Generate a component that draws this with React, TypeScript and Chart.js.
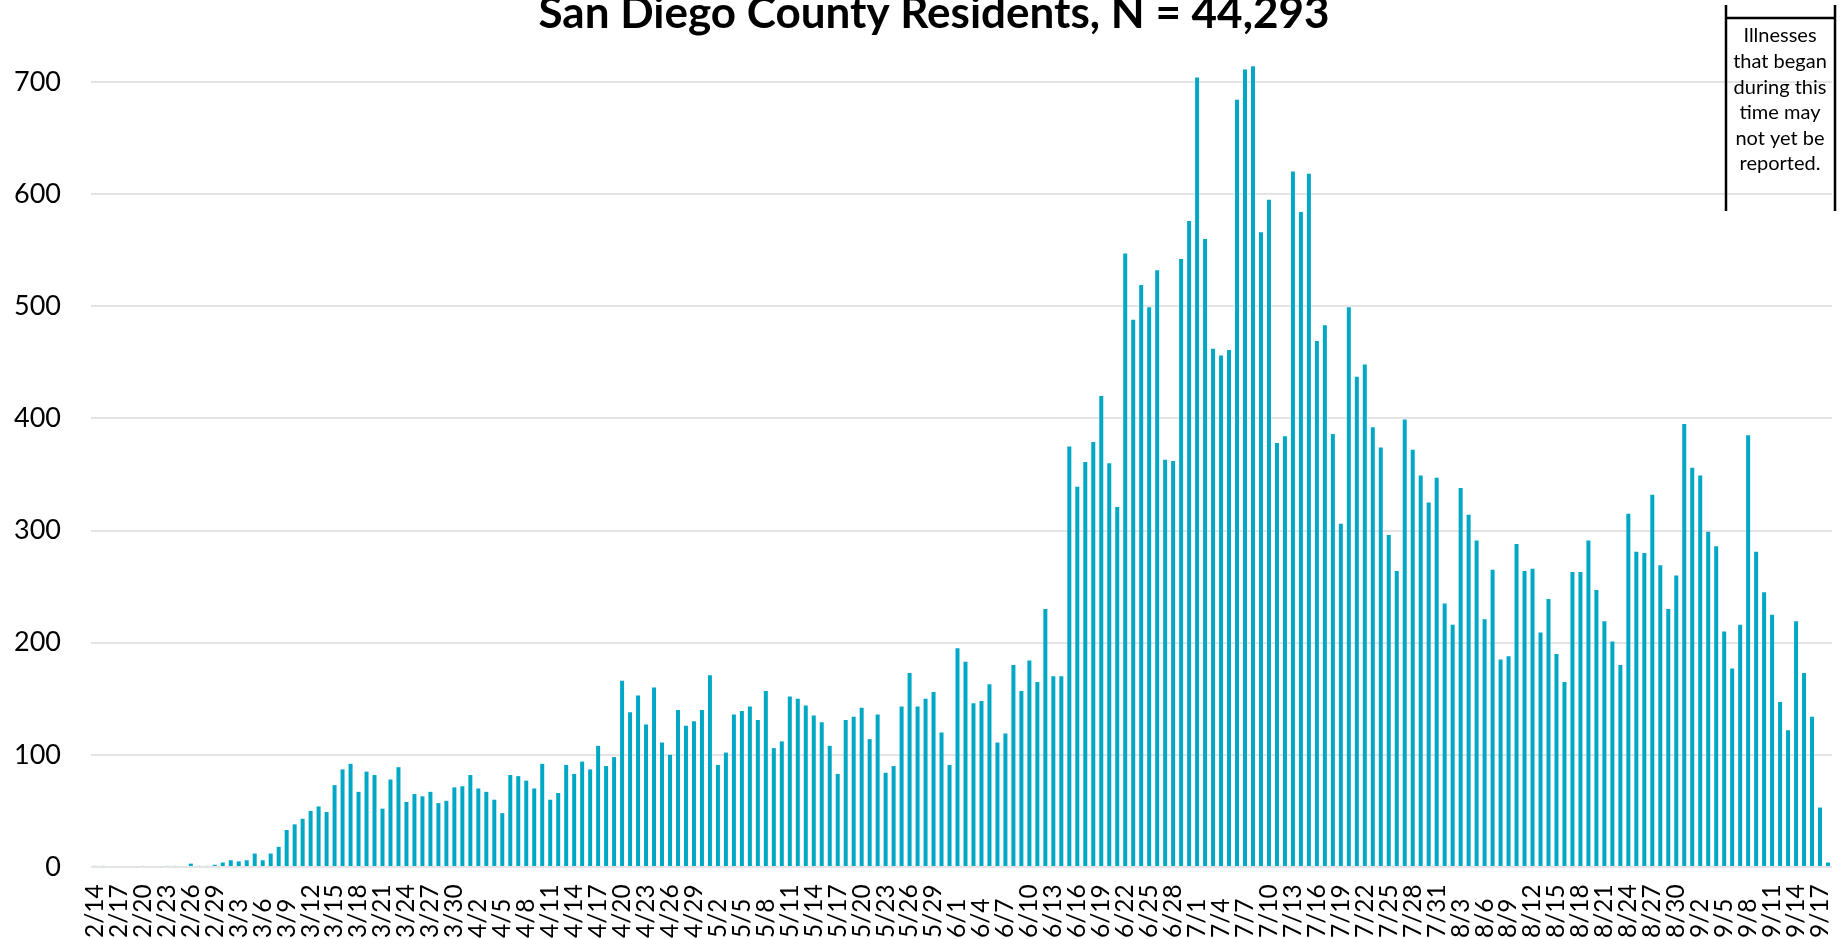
import { useEffect, useRef } from "react";
import { Chart, registerables } from "chart.js";

Chart.register(...registerables);

// Daily counts by illness onset date (2020)
const febValues = [1, 1, 0, 0, 0, 0, 1, 0, 0, 1, 1, 0, 3, 1, 1, 2];
const marValues = [4, 6, 5, 6, 12, 6, 12, 18, 33, 38, 43, 50, 54, 49, 73, 87, 92, 67, 85, 82, 52, 78, 89, 58, 65, 63, 67, 57, 59, 71, 72];
const aprValues = [82, 70, 67, 60, 48, 82, 81, 77, 70, 92, 60, 66, 91, 83, 94, 87, 108, 90, 98, 166, 138, 153, 127, 160, 111, 100, 140, 126, 130, 140];
const mayValues = [171, 91, 102, 136, 139, 143, 131, 157, 106, 112, 152, 150, 144, 135, 129, 108, 83, 131, 134, 142, 114, 136, 84, 90, 143, 173, 143, 150, 156, 120, 91];
const junValues = [195, 183, 146, 148, 163, 111, 119, 180, 157, 184, 165, 230, 170, 170, 375, 339, 361, 379, 420, 360, 321, 547, 488, 519, 499, 532, 363, 362, 542, 576];
const julValues = [704, 560, 462, 456, 461, 684, 711, 714, 566, 595, 378, 384, 620, 584, 618, 469, 483, 386, 306, 499, 437, 448, 392, 374, 296, 264, 399, 372, 349, 325, 347];
const augValues = [235, 216, 338, 314, 291, 221, 265, 185, 188, 288, 264, 266, 209, 239, 190, 165, 263, 263, 291, 247, 219, 201, 180, 315, 281, 280, 332, 269, 230, 260, 395];
const sepValues = [356, 349, 299, 286, 210, 177, 216, 385, 281, 245, 225, 147, 122, 219, 173, 134, 53, 4];

const monthNumbers = [2, 3, 4, 5, 6, 7, 8, 9];
const monthFirstDays = [14, 1, 1, 1, 1, 1, 1, 1];
const monthSeries = [febValues, marValues, aprValues, mayValues, junValues, julValues, augValues, sepValues];

const yTickValues = [0, 100, 200, 300, 400, 500, 600, 700];
const labelEvery = 3;
const titleText = "San Diego County Residents, N = 44,293";
const noteLines = ["Illnesses", "that began", "during this", "time may", "not yet be", "reported."];

const categories: string[] = [];
monthSeries.forEach((arr, m) =>
  arr.forEach((_, k) => categories.push(`${monthNumbers[m]}/${monthFirstDays[m] + k}`))
);
const values: number[] = monthSeries.flat();

const BAR_COLOR = "#00A8C6";
const FONT = "Lato, 'Open Sans', sans-serif";

const overlayPlugin = {
  id: "overlay",
  afterDraw(chart: any) {
    const ctx = chart.ctx as CanvasRenderingContext2D;
    const xs = chart.scales.x;
    // x tick labels (rotated, start-anchored at bottom)
    ctx.save();
    ctx.font = `24.5px ${FONT}`;
    ctx.fillStyle = "#000";
    ctx.textAlign = "left";
    ctx.textBaseline = "middle";
    categories.forEach((c, i) => {
      if (i % labelEvery !== 0) return;
      const x = xs.getPixelForValue(i);
      ctx.save();
      ctx.translate(x, 938);
      ctx.rotate(-Math.PI / 2);
      ctx.fillText(c, 0, 0);
      ctx.restore();
    });
    ctx.restore();

    // Title (partly cut at top)
    ctx.save();
    ctx.font = `bold 44px ${FONT}`;
    ctx.fillStyle = "#000";
    ctx.textAlign = "center";
    ctx.textBaseline = "alphabetic";
    ctx.fillText(titleText, 934, 28);
    ctx.restore();

    // Note bracket
    ctx.save();
    ctx.strokeStyle = "#000";
    ctx.lineWidth = 2.5;
    ctx.beginPath();
    ctx.moveTo(1726, 5);
    ctx.lineTo(1726, 211);
    ctx.moveTo(1835, 5);
    ctx.lineTo(1835, 211);
    ctx.moveTo(1726, 18);
    ctx.lineTo(1835, 18);
    ctx.stroke();
    ctx.font = `20px ${FONT}`;
    ctx.fillStyle = "#000";
    ctx.textAlign = "center";
    ctx.textBaseline = "middle";
    noteLines.forEach((t, i) => ctx.fillText(t, 1780, 36 + i * 25.6));
    ctx.restore();
  },
};

export default function App() {
  const ref = useRef<HTMLCanvasElement | null>(null);
  useEffect(() => {
    document.body.style.margin = "0";
    const canvas = ref.current;
    if (!canvas) return;
    const chart = new Chart(canvas, {
      type: "bar",
      data: {
        labels: categories,
        datasets: [
          {
            data: values,
            backgroundColor: BAR_COLOR,
            barPercentage: 0.5,
            categoryPercentage: 1.0,
          },
        ],
      },
      options: {
        responsive: false,
        animation: false,
        devicePixelRatio: 1,
        layout: { padding: { left: 0, right: 12, top: 0, bottom: 0 } },
        plugins: {
          legend: { display: false },
          tooltip: { enabled: false },
          title: { display: false },
        },
        scales: {
          x: {
            grid: { display: false },
            border: { display: false },
            ticks: { display: false },
            afterFit: (s: any) => {
              s.height = 72;
              s.paddingLeft = 0;
              s.paddingRight = 0;
            },
          },
          y: {
            min: 0,
            max: 773,
            afterBuildTicks: (s: any) => {
              s.ticks = yTickValues.map((v) => ({ value: v }));
            },
            grid: { color: "#E4E4E4", lineWidth: 2, drawTicks: false },
            border: { display: false },
            ticks: {
              font: { family: FONT, size: 27 },
              color: "#000",
              padding: 30,
            },
            afterFit: (s: any) => {
              s.width = 91;
              s.paddingTop = 0;
              s.paddingBottom = 0;
            },
          },
        },
      },
      plugins: [overlayPlugin],
    });
    return () => chart.destroy();
  }, []);
  return (
    <div style={{ width: 1844, height: 939, background: "#fff" }}>
      <canvas ref={ref} width={1844} height={939} style={{ display: "block" }} />
    </div>
  );
}
